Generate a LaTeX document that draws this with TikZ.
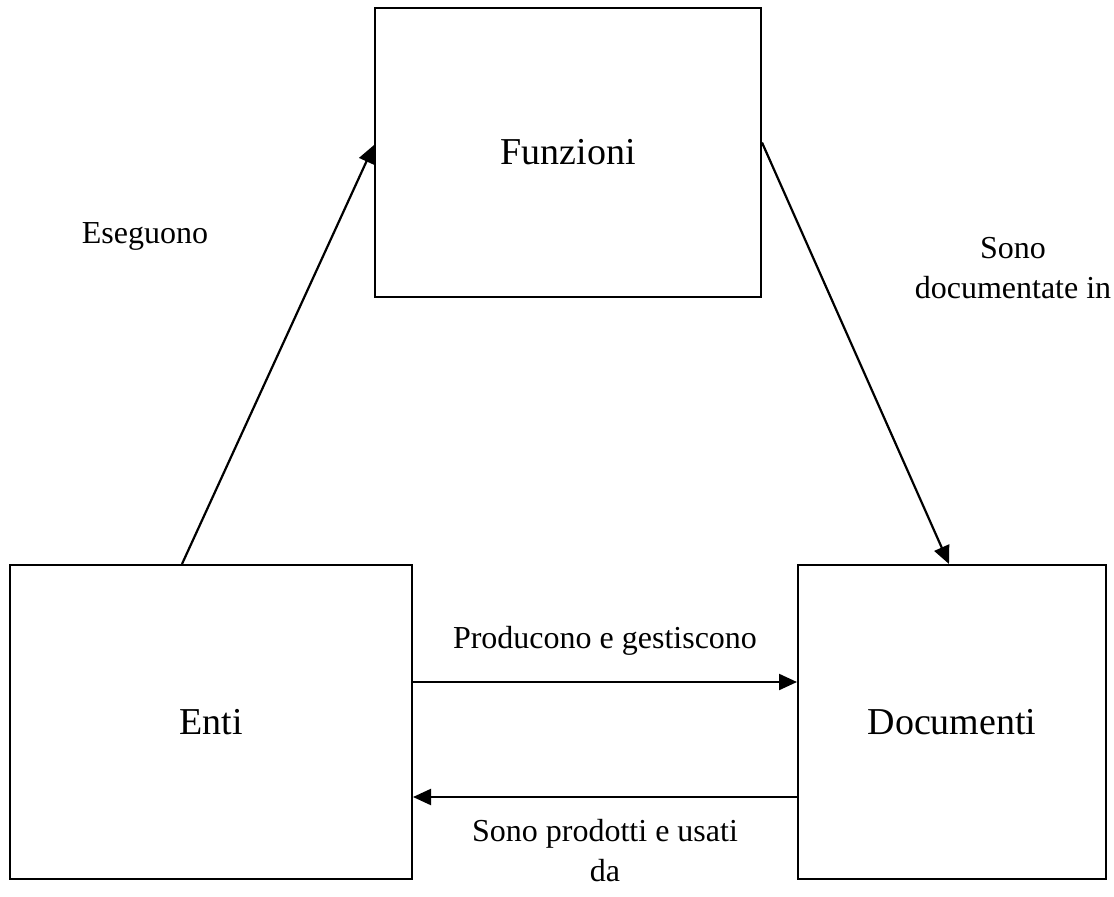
\documentclass[tikz,border=0pt]{standalone}
\usepackage{fontspec}
\setmainfont{Liberation Serif}
\usepackage{tikz}
\usetikzlibrary{arrows.meta}
\newcommand\labelFont{\fontsize{32}{40}\selectfont}
\newcommand\boxFont{\fontsize{38}{44}\selectfont}
\tikzset{
    entity/.style={draw, line width=2pt, inner sep=0pt, font=\boxFont},
    relation/.style={-{Triangle[length=18pt,width=16pt]}, line width=2.2pt},
    relText/.style={align=center, font=\labelFont}
}

\begin{document}
\begin{tikzpicture}[x=1pt, y=-1pt]
    \useasboundingbox (0,0) rectangle (1114,897);

    % the three boxes
    \node[entity, minimum width=386pt, minimum height=289pt] (funzioni) at (568,152.5) {Funzioni};
    \node[entity, minimum width=402pt, minimum height=314pt] (enti) at (211,722) {Enti};
    \node[entity, minimum width=308pt, minimum height=314pt] (documenti) at (952,722) {Documenti};

    % connectors
    \draw[relation] ([xshift=173pt]enti.north west) -- ([yshift=7.5pt]funzioni.west);
    \draw[relation] ([yshift=10pt]funzioni.east) -- ([xshift=-3pt]documenti.north);
    \draw[relation] ([yshift=40pt]enti.east) -- ([yshift=40pt]documenti.west);
    \draw[relation] ([yshift=-75pt]documenti.west) -- ([yshift=-75pt]enti.west -| enti.east);

    % labels
    \node[relText] (eseguono) at (145,236) {Eseguono};
    \node[relText] (documentate) at (1013,268) {Sono\\documentate in};
    \node[relText] (producono) at (605,641) {Producono e gestiscono};
    \node[relText] (prodotti) at (605,851) {Sono prodotti e usati\\da};
\end{tikzpicture}
\end{document}
